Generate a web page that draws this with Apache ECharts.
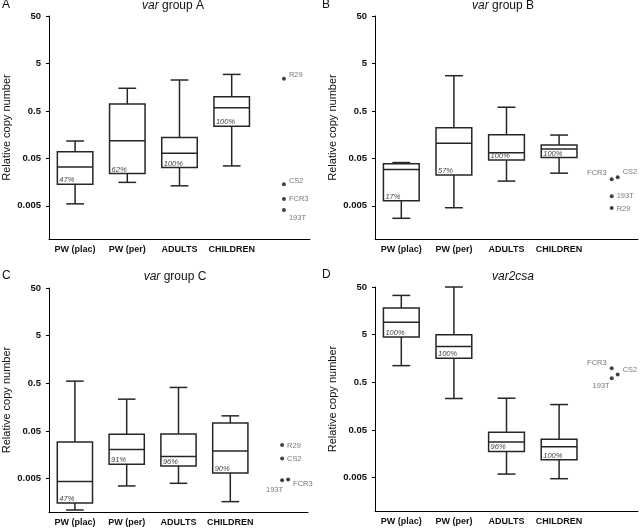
<!DOCTYPE html>
<html>
<head>
<meta charset="utf-8">
<script src="https://cdn.jsdelivr.net/npm/echarts@6/dist/echarts.min.js"></script>
<style>
  html, body { margin: 0; padding: 0; background: #fff; }
  #main { width: 640px; height: 528px; }
</style>
</head>
<body>
<div id="main"></div>
<script>
// categories (last slot holds the reference strains)
var groups = ['PW (plac)', 'PW (per)', 'ADULTS', 'CHILDREN', ''];
var yTicks = [0.005, 0.05, 0.5, 5, 50];
var yMin = 0.001, yMax = 50;

// box rows: [min, Q1, median, Q3, max]
var boxA = [
  [0.0055, 0.0143, 0.033, 0.069, 0.116],
  [0.0156, 0.024, 0.118, 0.70, 1.50],
  [0.0132, 0.032, 0.064, 0.138, 2.24],
  [0.0347, 0.239, 0.58, 1.00, 2.94]
];
var pctA = ['47%', '62%', '100%', '100%'];
var strainNamesA = ['R29', 'CS2', 'FCR3', '193T'];
var strainValsA = [2.39, 0.0143, 0.0070, 0.0041];

var boxB = [
  [0.00273, 0.0064, 0.0291, 0.0383, 0.0408],
  [0.00456, 0.0224, 0.104, 0.221, 2.76],
  [0.0166, 0.0462, 0.066, 0.158, 0.598],
  [0.0244, 0.052, 0.0787, 0.0955, 0.155]
];
var pctB = ['17%', '57%', '100%', '100%'];
var strainNamesB = ['FCR3', 'CS2', '193T', 'R29'];
var strainValsB = [0.0182, 0.0201, 0.0080, 0.0045];

var boxC = [
  [0.0011, 0.00155, 0.00435, 0.0295, 0.556],
  [0.00352, 0.010, 0.0204, 0.0428, 0.233],
  [0.0040, 0.00925, 0.0146, 0.0435, 0.41],
  [0.00165, 0.0066, 0.0191, 0.074, 0.104]
];
var pctC = ['47%', '91%', '96%', '90%'];
var strainNamesC = ['R29', 'CS2', '193T', 'FCR3'];
var strainValsC = [0.0255, 0.0132, 0.00462, 0.0048];

var boxD = [
  [1.12, 4.49, 9.08, 18.2, 33.3],
  [0.229, 1.6, 2.81, 5.0, 50],
  [0.00595, 0.0178, 0.0279, 0.0451, 0.232],
  [0.00476, 0.0119, 0.0223, 0.0321, 0.171]
];
var pctD = ['100%', '100%', '96%', '100%'];
var strainNamesD = ['FCR3', 'CS2', '193T'];
var strainValsD = [0.986, 0.728, 0.61];

var lg = function (v) { return Math.log10(v); };
var font = '"Liberation Sans", Arial, sans-serif';

var chart = echarts.init(document.getElementById('main'));

// label placement for strain dots: [position, dx, dy, symbol dx]
var panels = [
  { letter: 'A', title: '{i|var} group A', tx: 173, ty: 0, lx: 2, ly: -1,
    grid: { left: 46, top: 16, width: 264, height: 223 },
    box: boxA, pct: pctA, names: strainNamesA, vals: strainValsA,
    place: [['right', 0, -4, 0], ['right', 0, -3, 0], ['right', 0, 0, 0], ['right', 0, 8, 0]] },
  { letter: 'B', title: '{i|var} group B', tx: 503, ty: 0, lx: 322, ly: -1,
    grid: { left: 375, top: 16, width: 263, height: 223 },
    box: boxB, pct: pctB, names: strainNamesB, vals: strainValsB,
    place: [['left', 0, -6, 0], ['right', 0, -5, 6], ['right', 0, 0, 0], ['right', 0, 1, 0]] },
  { letter: 'C', title: '{i|var} group C', tx: 175, ty: 271, lx: 2, ly: 270,
    grid: { left: 45, top: 288, width: 263, height: 224 },
    box: boxC, pct: pctC, names: strainNamesC, vals: strainValsC,
    place: [['right', 0, 1, 0], ['right', 0, 0, 0], ['left', 6, 10, 0], ['right', 0, 4, 6]] },
  { letter: 'D', title: '{i|var2csa}', tx: 513, ty: 271, lx: 322, ly: 269,
    grid: { left: 375, top: 287, width: 263, height: 224 },
    box: boxD, pct: pctD, names: strainNamesD, vals: strainValsD,
    place: [['left', 0, -5, 0], ['right', 0, -5, 6], ['left', 3, 8, 0]] }
];

function boxRenderer(pcts) {
  return function (params, api) {
    var cat = api.value(0);
    var p = [1, 2, 3, 4, 5].map(function (d) { return api.coord([cat, api.value(d)]); });
    var cx = p[0][0];
    var bw = api.size([1, 0])[0] * 0.68;
    var half = bw / 2, cap = bw / 4;
    var st = { stroke: '#262626', lineWidth: 1.5, fill: 'none' };
    return {
      type: 'group',
      children: [
        { type: 'line', shape: { x1: cx, y1: p[4][1], x2: cx, y2: p[3][1] }, style: st },
        { type: 'line', shape: { x1: cx, y1: p[1][1], x2: cx, y2: p[0][1] }, style: st },
        { type: 'line', shape: { x1: cx - cap, y1: p[4][1], x2: cx + cap, y2: p[4][1] }, style: st },
        { type: 'line', shape: { x1: cx - cap, y1: p[0][1], x2: cx + cap, y2: p[0][1] }, style: st },
        { type: 'rect', shape: { x: cx - half, y: p[3][1], width: bw, height: p[1][1] - p[3][1] }, style: st },
        { type: 'line', shape: { x1: cx - half, y1: p[2][1], x2: cx + half, y2: p[2][1] }, style: st },
        { type: 'text', x: cx - half + 2, y: p[1][1] - 4,
          style: { text: pcts[params.dataIndex], fontSize: 7.5, fontStyle: 'italic', fontFamily: font,
                   fill: '#444', align: 'left', verticalAlign: 'middle' } }
      ]
    };
  };
}

var option = {
  animation: false,
  backgroundColor: '#fff',
  textStyle: { fontFamily: font },
  title: [], grid: [], xAxis: [], yAxis: [], series: []
};

panels.forEach(function (pn, i) {
  option.title.push({
    text: pn.letter, left: pn.lx, top: pn.ly, padding: 0,
    textStyle: { fontSize: 12, fontWeight: 'normal', color: '#111' }
  });
  option.title.push({
    text: pn.title, left: pn.tx, top: pn.ty, padding: 0, textAlign: 'center',
    textStyle: { fontSize: 12, fontWeight: 'normal', color: '#111',
                 rich: { i: { fontSize: 12, fontStyle: 'italic', color: '#111' } } }
  });
  option.grid.push(pn.grid);
  option.xAxis.push({
    type: 'category', gridIndex: i, data: groups,
    axisLine: { onZero: false, lineStyle: { color: '#000', width: 1 } },
    axisTick: { show: false },
    axisLabel: { fontSize: 9, fontWeight: 'bold', color: '#111', margin: 6, interval: 0 },
    splitLine: { show: false }
  });
  option.yAxis.push({
    type: 'value', gridIndex: i, min: lg(yMin), max: lg(yMax),
    name: 'Relative copy number', nameLocation: 'middle', nameGap: 37,
    nameTextStyle: { fontSize: 11, color: '#111' },
    axisLine: { show: true, lineStyle: { color: '#000', width: 1 } },
    axisTick: { show: true, length: 3, customValues: yTicks.map(lg), lineStyle: { color: '#000' } },
    axisLabel: {
      fontSize: 9.5, fontWeight: 'bold', color: '#111', margin: 8,
      customValues: yTicks.map(lg),
      formatter: function (v) { return String(parseFloat(Math.pow(10, v).toPrecision(3))); }
    },
    splitLine: { show: false }
  });
  option.series.push({
    type: 'custom', xAxisIndex: i, yAxisIndex: i,
    renderItem: boxRenderer(pn.pct),
    encode: { x: 0, y: [1, 2, 3, 4, 5] },
    data: pn.box.map(function (b, k) { return [k].concat(b.map(lg)); })
  });
  option.series.push({
    type: 'scatter', xAxisIndex: i, yAxisIndex: i,
    symbolSize: 4, itemStyle: { color: '#111' },
    data: pn.vals.map(function (v, k) {
      var pl = pn.place[k];
      return {
        name: pn.names[k], value: [4, lg(v)], symbolOffset: [pl[3], 0],
        label: { show: true, position: pl[0], offset: [pl[1], pl[2]], distance: 3,
                 formatter: '{b}', fontSize: 7.5, color: '#555' }
      };
    })
  });
});

chart.setOption(option);
</script>
</body>
</html>
